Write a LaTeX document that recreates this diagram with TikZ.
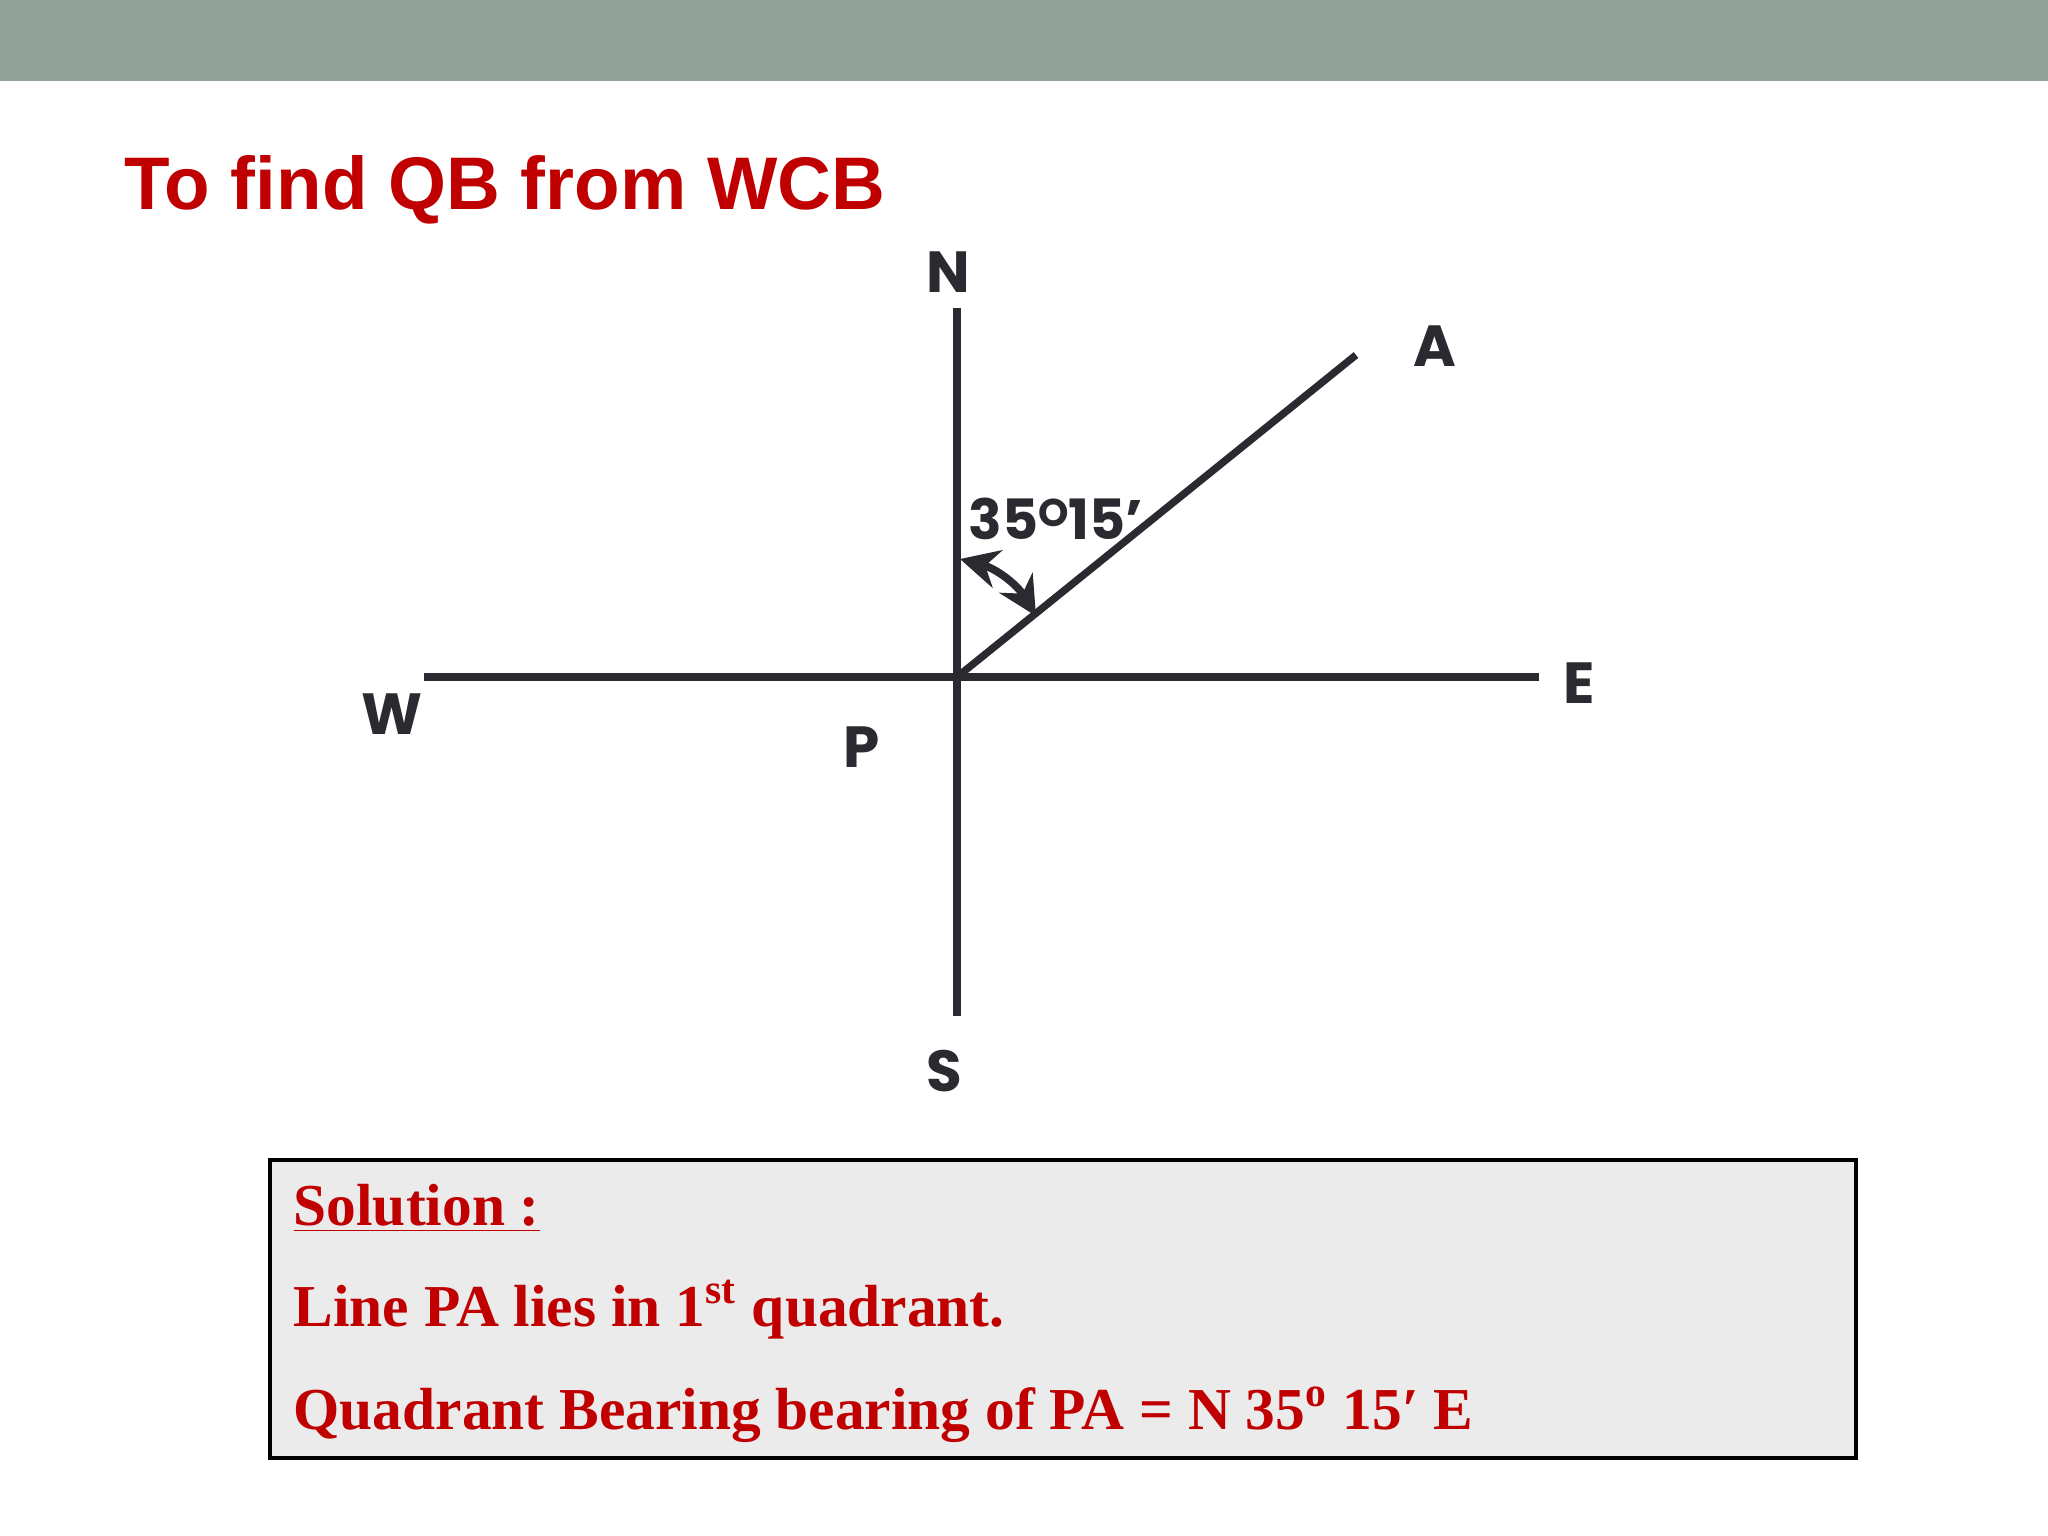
\documentclass[tikz,border=0pt]{standalone}
\usepackage{fontspec}
\setmainfont{Liberation Sans}
\newfontfamily\gothfont{Poppins}
\newfontfamily\palfont{Liberation Serif}
\usetikzlibrary{arrows.meta}
\definecolor{barcol}{HTML}{93A39A}
\definecolor{titlered}{HTML}{C00000}
\definecolor{inkcol}{HTML}{2B2A30}
\definecolor{boxfill}{HTML}{EBEBEB}
\tikzset{
  dirline/.style={draw=inkcol,line width=2.1pt},
  dirlabel/.style={inner sep=0pt,text=inkcol,font=\gothfont\bfseries\fontsize{16.5}{20}\selectfont},
  soltext/.style={anchor=base west,inner sep=0pt,text=titlered,font=\palfont\bfseries\fontsize{16.9}{20}\selectfont}
}
\begin{document}
\begin{tikzpicture}[x={(0.01cm,0)},y={(0,-0.01cm)}]
  \useasboundingbox (0,0) rectangle (2048,1536);
  \fill[white] (0,0) rectangle (2048,1536);
  \fill[barcol] (0,0) rectangle (2048,81);
  \node[anchor=base west,inner sep=0pt,text=titlered,font=\bfseries\fontsize{21.2}{24}\selectfont] (title) at (124,209) {To find QB from WCB};
  % compass lines
  \coordinate (P) at (957,677);
  \coordinate (Ntip) at (957,308);
  \coordinate (Stip) at (957,1016);
  \coordinate (Wtip) at (424,677);
  \coordinate (Etip) at (1539,677);
  \coordinate (Atip) at (1356,355);
  \draw[dirline] (Ntip)--(Stip);
  \draw[dirline] (Wtip)--(Etip);
  \draw[dirline] (P)--(Atip);
  \node[dirlabel] (N) at (948,272) {N};
  \node[dirlabel] (A) at (1435,346) {A};
  \node[dirlabel] (E) at (1579,683) {E};
  \node[dirlabel] (W) at (392,714) {W};
  \node[dirlabel] (Plabel) at (862,747) {P};
  \node[dirlabel] (S) at (944,1071) {S};
  % angle
  \coordinate (arcN) at (960,559);
  \coordinate (arcA) at (1036,616);
  \draw[draw=inkcol,line width=2.2pt,{Stealth[length=11pt,width=11pt]}-{Stealth[length=11pt,width=11pt]}] (arcN) to[bend left=22] (arcA);
  \node[dirlabel,anchor=west,font=\gothfont\fontsize{15.8}{20}\selectfont\bfseries] (ang) at (968,519) {35\raisebox{0.42ex}{\fontsize{11}{12}\selectfont O}15’};
  % solution box
  \draw[fill=boxfill,draw=black,line width=1.2pt] (270,1160) rectangle (1856,1458);
  \node[soltext] (sol) at (293,1225) {\underline{Solution :}};
  \node[soltext] (line1) at (293,1326) {Line PA lies in 1\textsuperscript{st} quadrant.};
  \node[soltext] (line2) at (293,1429) {Quadrant Bearing bearing of PA = N 35\textsuperscript{o} 15′ E};
\end{tikzpicture}
\end{document}
